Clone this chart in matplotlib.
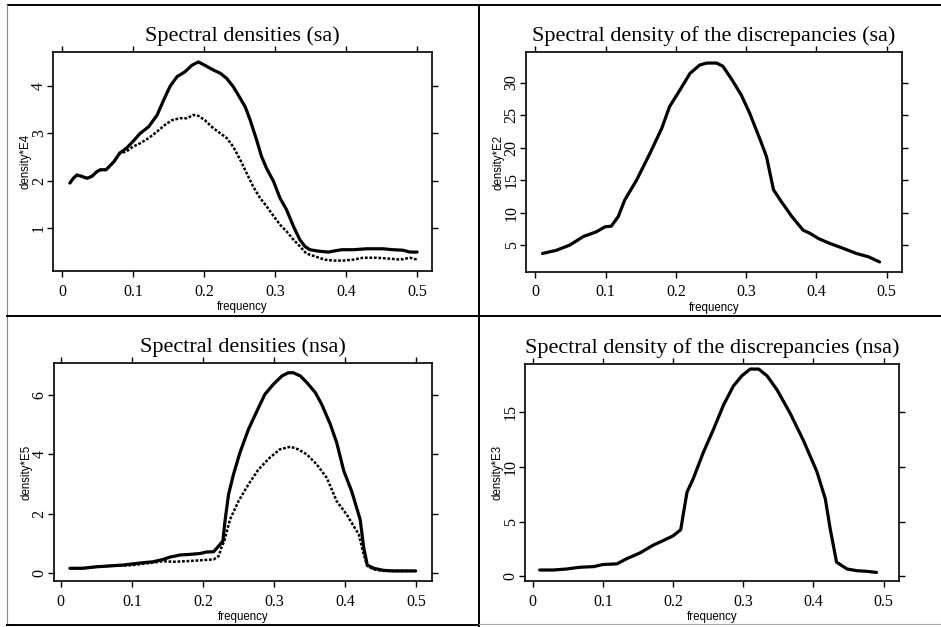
import matplotlib
matplotlib.use('Agg')
import matplotlib.pyplot as plt
from matplotlib.lines import Line2D


# Spectral densities (sa), density*E4
sa_freq = [0.011, 0.016, 0.021, 0.028, 0.035, 0.042, 0.049, 0.054, 0.062, 0.073,
           0.081, 0.091, 0.100, 0.110, 0.122, 0.134, 0.143, 0.152, 0.162, 0.173,
           0.183, 0.192, 0.201, 0.213, 0.223, 0.232, 0.241, 0.251, 0.258, 0.265,
           0.274, 0.281, 0.288, 0.298, 0.307, 0.316, 0.326, 0.335, 0.342, 0.349,
           0.361, 0.375, 0.382, 0.394, 0.410, 0.429, 0.452, 0.466, 0.480, 0.490,
           0.500]
sa_solid = [1.95, 2.05, 2.12, 2.09, 2.05, 2.09, 2.19, 2.23, 2.23, 2.40,
            2.58, 2.69, 2.83, 3.00, 3.14, 3.39, 3.70, 3.99, 4.20, 4.30,
            4.44, 4.51, 4.44, 4.34, 4.27, 4.16, 3.99, 3.74, 3.56, 3.28,
            2.86, 2.51, 2.26, 1.98, 1.63, 1.39, 1.03, 0.75, 0.61, 0.54,
            0.51, 0.49, 0.51, 0.54, 0.54, 0.56, 0.56, 0.54, 0.53, 0.49,
            0.49]

sa_dot_freq = [0.011, 0.016, 0.021, 0.028, 0.035, 0.042, 0.049, 0.054, 0.062, 0.073,
               0.081, 0.091, 0.100, 0.110, 0.122, 0.134, 0.145, 0.155, 0.166, 0.176,
               0.185, 0.192, 0.201, 0.213, 0.223, 0.232, 0.241, 0.251, 0.260, 0.269,
               0.279, 0.288, 0.298, 0.307, 0.316, 0.326, 0.335, 0.344, 0.356, 0.370,
               0.382, 0.396, 0.410, 0.424, 0.443, 0.462, 0.476, 0.490, 0.500]
sa_dotted = [1.95, 2.05, 2.12, 2.09, 2.05, 2.09, 2.19, 2.23, 2.23, 2.40,
             2.57, 2.62, 2.72, 2.79, 2.90, 3.04, 3.18, 3.28, 3.32, 3.32,
             3.39, 3.37, 3.28, 3.11, 3.00, 2.90, 2.72, 2.44, 2.16, 1.88,
             1.63, 1.46, 1.25, 1.07, 0.93, 0.75, 0.61, 0.46, 0.40, 0.33,
             0.31, 0.31, 0.33, 0.37, 0.37, 0.35, 0.33, 0.37, 0.33]

# Spectral density of the discrepancies (sa), density*E2
dsa_freq = [0.010, 0.030, 0.049, 0.068, 0.087, 0.099, 0.108, 0.118, 0.127, 0.144,
            0.163, 0.180, 0.191, 0.206, 0.220, 0.234, 0.244, 0.258, 0.267, 0.280,
            0.293, 0.305, 0.320, 0.329, 0.339, 0.350, 0.365, 0.381, 0.391, 0.403,
            0.419, 0.438, 0.457, 0.474, 0.490]
dsa_vals = [3.7, 4.2, 5.0, 6.3, 7.05, 7.8, 7.9, 9.4, 11.9, 15.0,
            19.1, 23.0, 26.3, 28.9, 31.4, 32.7, 33.0, 33.0, 32.5, 30.4,
            28.1, 25.3, 21.2, 18.6, 13.5, 11.7, 9.4, 7.3, 6.8, 6.0,
            5.25, 4.5, 3.7, 3.2, 2.4]

# Spectral densities (nsa), density*E5
nsa_freq = [0.013, 0.031, 0.050, 0.069, 0.088, 0.102, 0.116, 0.130, 0.144, 0.154,
            0.168, 0.182, 0.196, 0.205, 0.215, 0.222, 0.228, 0.231, 0.236, 0.243,
            0.252, 0.264, 0.276, 0.287, 0.299, 0.311, 0.320, 0.327, 0.337, 0.346,
            0.358, 0.367, 0.379, 0.388, 0.398, 0.409, 0.416, 0.421, 0.426, 0.431,
            0.440, 0.454, 0.468, 0.482, 0.499]
nsa_solid = [0.15, 0.15, 0.20, 0.23, 0.26, 0.30, 0.34, 0.37, 0.45, 0.53,
             0.60, 0.62, 0.65, 0.70, 0.71, 0.90, 1.07, 1.75, 2.65, 3.33,
             4.06, 4.85, 5.47, 6.03, 6.37, 6.65, 6.76, 6.76, 6.65, 6.43,
             6.09, 5.69, 5.02, 4.40, 3.44, 2.76, 2.20, 1.80, 0.85, 0.26,
             0.15, 0.08, 0.06, 0.06, 0.06]

nsa_dot_freq = [0.013, 0.031, 0.050, 0.069, 0.088, 0.102, 0.116, 0.130, 0.144, 0.158,
                0.177, 0.196, 0.215, 0.222, 0.226, 0.230, 0.238, 0.250, 0.264, 0.278,
                0.294, 0.308, 0.323, 0.334, 0.346, 0.360, 0.374, 0.388, 0.402, 0.409,
                0.419, 0.426, 0.431, 0.440, 0.454, 0.468, 0.482, 0.499]
nsa_dotted = [0.15, 0.15, 0.20, 0.23, 0.24, 0.26, 0.30, 0.34, 0.39, 0.37,
              0.39, 0.42, 0.45, 0.56, 0.85, 1.07, 1.80, 2.42, 2.99, 3.49,
              3.89, 4.17, 4.26, 4.17, 4.00, 3.66, 3.21, 2.42, 1.97, 1.69,
              1.30, 0.62, 0.23, 0.11, 0.06, 0.06, 0.06, 0.06]

# Spectral density of the discrepancies (nsa), density*E3
dnsa_freq = [0.010, 0.029, 0.048, 0.067, 0.087, 0.100, 0.120, 0.134, 0.153, 0.172,
             0.186, 0.200, 0.211, 0.215, 0.220, 0.229, 0.243, 0.258, 0.272, 0.286,
             0.298, 0.310, 0.322, 0.334, 0.348, 0.367, 0.386, 0.405, 0.417, 0.424,
             0.433, 0.448, 0.462, 0.476, 0.490]
dnsa_vals = [0.59, 0.59, 0.68, 0.84, 0.90, 1.09, 1.15, 1.62, 2.15, 2.86,
             3.27, 3.70, 4.26, 5.82, 7.69, 8.93, 11.27, 13.45, 15.62, 17.34,
             18.27, 18.89, 18.89, 18.27, 17.02, 14.85, 12.36, 9.55, 7.07, 4.33,
             1.31, 0.68, 0.53, 0.47, 0.37]

x_ticks = [0, 0.1, 0.2, 0.3, 0.4, 0.5]
x_labels = ['0', '0.1', '0.2', '0.3', '0.4', '0.5']


W, H = 941, 627
fig = plt.figure(figsize=(W / 100, H / 100), dpi=100)

serif = 'Liberation Serif'
sans = 'Liberation Sans'


def make_axes(left, top, right, bottom):
    # pixel box -> figure fraction
    return fig.add_axes([left / W, 1 - bottom / H, (right - left) / W, (bottom - top) / H])


def style(ax, title, ylabel, xlim, ylim, yticks):
    ax.set_xlim(*xlim)
    ax.set_ylim(*ylim)
    ax.set_xticks(x_ticks)
    ax.set_xticklabels(x_labels, fontfamily=serif, fontsize=11.5)
    ax.set_yticks(yticks)
    ax.set_yticklabels([str(t) for t in yticks], fontfamily=serif, fontsize=11.5,
                       rotation=90, va='center')
    ax.tick_params(direction='out', length=4, width=1, top=True, right=True,
                   labeltop=False, labelright=False)
    ax.tick_params(axis='x', pad=5)
    ax.tick_params(axis='y', pad=0.5)
    for s in ax.spines.values():
        s.set_linewidth(1.2)
    ax.set_title(title, fontfamily=serif, fontsize=16, pad=8)
    ax.set_xlabel('frequency', fontfamily=sans, fontsize=8.3, labelpad=1)
    ax.set_ylabel(ylabel, fontfamily=sans, fontsize=8.3, labelpad=-0.5)


solid_kw = dict(color='black', linewidth=2.3, solid_capstyle='round')
dot_kw = dict(color='black', linewidth=1.8, linestyle=(0, (1.1, 0.7)))

# top-left
ax1 = make_axes(53, 52, 432, 271)
ax1.plot(sa_freq, sa_solid, **solid_kw)
ax1.plot(sa_dot_freq, sa_dotted, **dot_kw)
style(ax1, 'Spectral densities (sa)', 'density*E4',
      (-0.0127, 0.521), (0.09, 4.72), [1, 2, 3, 4])

# top-right
ax2 = make_axes(526, 52, 902, 272)
ax2.plot(dsa_freq, dsa_vals, **solid_kw)
style(ax2, 'Spectral density of the discrepancies (sa)', 'density*E2',
      (-0.0135, 0.522), (0.85, 34.7), [5, 10, 15, 20, 25, 30])

# bottom-left
ax3 = make_axes(54, 363, 432, 581)
ax3.plot(nsa_freq, nsa_solid, **solid_kw)
ax3.plot(nsa_dot_freq, nsa_dotted, **dot_kw)
style(ax3, 'Spectral densities (nsa)', 'density*E5',
      (-0.0094, 0.522), (-0.28, 7.09), [0, 2, 4, 6])

# bottom-right
ax4 = make_axes(525, 364, 899, 581)
ax4.plot(dnsa_freq, dnsa_vals, **solid_kw)
style(ax4, 'Spectral density of the discrepancies (nsa)', 'density*E3',
      (-0.0109, 0.522), (-0.41, 19.35), [0, 5, 10, 15])

# scanned page frame lines
def frame_line(x0, y0, x1, y1, color='black', lw=1.4):
    fig.add_artist(Line2D([x0 / W, x1 / W], [1 - y0 / H, 1 - y1 / H],
                          transform=fig.transFigure, color=color, linewidth=lw))

frame_line(8, 5, 941, 5)
frame_line(7, 5, 7, 625, color='#888888', lw=0.8)
frame_line(479, 5, 479, 627)
frame_line(7, 316, 941, 316)
frame_line(7, 625, 479, 625)
frame_line(479, 624, 941, 624, color='#aaaaaa', lw=0.8)

fig.savefig('out.png', dpi=100)
